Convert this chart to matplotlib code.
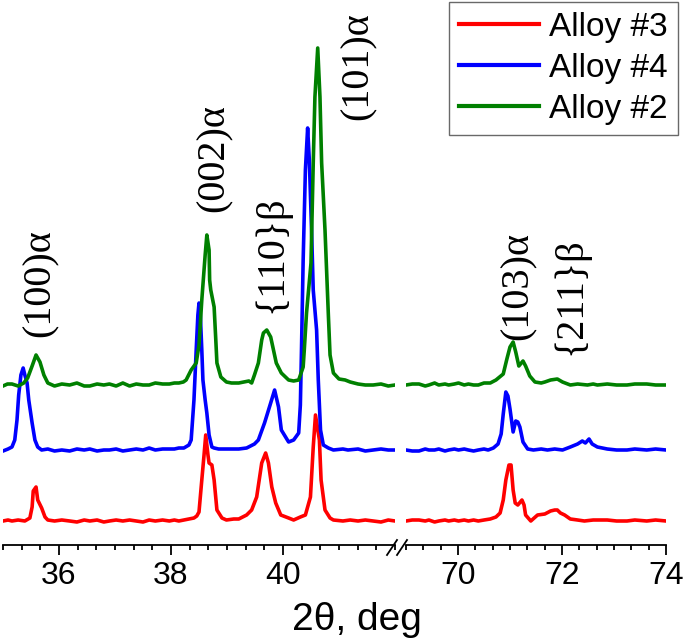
import matplotlib
matplotlib.use('Agg')
import matplotlib.pyplot as plt
from matplotlib.ticker import MultipleLocator
from matplotlib.lines import Line2D

plt.rcParams['font.family'] = ['Liberation Sans', 'DejaVu Sans']

labels = ['Alloy #3', 'Alloy #4', 'Alloy #2']
colors = ['#ff0000', '#0000ff', '#008000']
offsets = [24, 95, 160]

# ---- low-angle window (35-42 deg) ----
tt_lo_a3 = [35.00, 35.09, 35.16, 35.27, 35.39, 35.48, 35.52, 35.54, 35.59, 35.62, 35.69, 35.75,
            35.80, 35.92, 36.05, 36.19, 36.32, 36.45, 36.55, 36.68, 36.80, 36.90, 37.02, 37.14,
            37.26, 37.38, 37.50, 37.61, 37.72, 37.85, 37.97, 38.06, 38.14, 38.23, 38.32, 38.41,
            38.46, 38.50, 38.55, 38.59, 38.62, 38.66, 38.68, 38.73, 38.77, 38.82, 38.91, 38.99,
            39.12, 39.21, 39.35, 39.44, 39.53, 39.62, 39.69, 39.74, 39.80, 39.87, 39.96, 40.10,
            40.19, 40.31, 40.40, 40.49, 40.54, 40.58, 40.65, 40.68, 40.75, 40.84, 40.90, 41.07,
            41.20, 41.34, 41.47, 41.61, 41.75, 41.88, 42.00]
int_lo_a3 = [0, 1, 0, 1, 0, 3, 14, 30, 34, 21, 13, 4,
             1, 0, 1, 0, -1, 1, 0, 1, -1, 0, 1, 0,
             1, 0, -1, 1, 0, 1, 0, 1, 0, 1, 2, 3,
             5, 9, 41, 66, 86, 66, 58, 56, 41, 11, 3, 1,
             2, 2, 6, 11, 24, 58, 68, 58, 34, 18, 6, 3,
             1, 4, 6, 24, 74, 106, 81, 41, 11, 3, 1, 0,
             1, 0, 1, 0, -1, 1, 0]

tt_lo_a4 = [35.00, 35.09, 35.16, 35.21, 35.25, 35.28, 35.32, 35.36, 35.39, 35.43, 35.46, 35.52,
            35.57, 35.62, 35.69, 35.80, 35.92, 36.05, 36.19, 36.32, 36.45, 36.55, 36.68, 36.80,
            36.90, 37.02, 37.14, 37.26, 37.38, 37.50, 37.61, 37.72, 37.85, 37.97, 38.06, 38.14,
            38.23, 38.32, 38.36, 38.41, 38.45, 38.48, 38.50, 38.52, 38.55, 38.57, 38.61, 38.64,
            38.68, 38.73, 38.77, 38.85, 38.99, 39.12, 39.21, 39.35, 39.49, 39.56, 39.67, 39.78,
            39.85, 39.92, 39.97, 40.10, 40.19, 40.28, 40.31, 40.33, 40.36, 40.40, 40.44, 40.47,
            40.51, 40.54, 40.60, 40.63, 40.67, 40.72, 40.81, 40.90, 41.07, 41.16, 41.34, 41.47,
            41.61, 41.75, 41.88, 42.00]
int_lo_a4 = [-1, 1, 3, 10, 30, 55, 75, 82, 75, 67, 50, 27,
             10, 3, 0, 1, -1, 0, -1, 1, 0, 1, -1, 0,
             0, 1, -1, 0, 1, 0, 2, 0, 1, 1, 1, 2,
             2, 5, 10, 50, 100, 135, 147, 140, 100, 70, 50, 37,
             15, 3, 2, 1, 1, 1, 1, 2, 6, 10, 27, 47,
             60, 43, 20, 8, 10, 17, 45, 100, 190, 280, 322, 290,
             220, 160, 120, 70, 20, 5, 2, 0, 1, 0, 1, -1,
             0, 1, 0, 0]

tt_lo_a2 = [35.00, 35.08, 35.16, 35.27, 35.37, 35.44, 35.52, 35.59, 35.66, 35.73, 35.80, 35.92,
            36.05, 36.19, 36.32, 36.45, 36.55, 36.68, 36.80, 36.90, 37.02, 37.14, 37.26, 37.38,
            37.50, 37.61, 37.72, 37.85, 37.97, 38.06, 38.14, 38.22, 38.27, 38.36, 38.45, 38.50,
            38.55, 38.61, 38.64, 38.68, 38.69, 38.71, 38.77, 38.80, 38.82, 38.89, 38.99, 39.08,
            39.21, 39.30, 39.39, 39.44, 39.49, 39.56, 39.62, 39.65, 39.71, 39.78, 39.83, 39.88,
            39.97, 40.10, 40.19, 40.28, 40.36, 40.38, 40.42, 40.50, 40.54, 40.57, 40.62, 40.66,
            40.69, 40.75, 40.81, 40.84, 40.90, 41.00, 41.11, 41.20, 41.34, 41.47, 41.61, 41.75,
            41.88, 42.00]
int_lo_a2 = [-1, 1, 1, -1, 2, 7, 19, 30, 23, 10, 2, -1,
             1, 0, 2, -1, -1, 1, 0, 1, -1, 2, -1, 1,
             0, 0, 2, 1, 1, 2, 2, 3, 5, 15, 22, 40,
             85, 130, 150, 135, 105, 95, 78, 45, 22, 8, 3, 2,
             2, 3, 4, 2, 10, 22, 45, 52, 55, 48, 35, 22,
             12, 5, 4, 5, 18, 35, 72, 122, 222, 288, 337, 288,
             222, 155, 70, 30, 12, 6, 5, 3, 1, 0, 0, 1,
             -1, 0]

# ---- high-angle window (69-74 deg) ----
tt_hi_a3 = [69.00, 69.12, 69.25, 69.37, 69.44, 69.55, 69.63, 69.75, 69.82, 69.93, 70.01, 70.12,
            70.20, 70.30, 70.39, 70.50, 70.62, 70.73, 70.81, 70.87, 70.92, 70.98, 71.02, 71.06,
            71.10, 71.15, 71.23, 71.27, 71.30, 71.40, 71.53, 71.67, 71.78, 71.86, 71.91, 71.97,
            72.05, 72.16, 72.30, 72.43, 72.60, 72.87, 73.05, 73.25, 73.40, 73.63, 73.80, 74.00]
int_hi_a3 = [0, 1, 1, 0, 1, -1, 0, 1, 0, 1, 0, 1,
             0, 1, 0, 1, 2, 4, 8, 21, 41, 56, 56, 31,
             18, 16, 21, 16, 6, 0, 6, 7, 10, 11, 11, 8,
             6, 2, 1, 0, 1, 1, 0, 0, 1, 0, 1, 0]

tt_hi_a4 = [69.00, 69.12, 69.25, 69.37, 69.44, 69.55, 69.63, 69.75, 69.82, 69.93, 70.01, 70.12,
            70.20, 70.30, 70.39, 70.50, 70.58, 70.68, 70.77, 70.83, 70.87, 70.92, 70.96, 71.00,
            71.06, 71.11, 71.15, 71.19, 71.25, 71.34, 71.45, 71.60, 71.72, 71.86, 72.01, 72.16,
            72.30, 72.39, 72.45, 72.52, 72.58, 72.68, 72.87, 73.05, 73.25, 73.40, 73.63, 73.80,
            74.00]
int_hi_a4 = [0, -1, -1, 1, 0, 0, 1, -1, 0, 1, 0, 1,
             0, -1, 0, 1, 0, 2, 6, 16, 36, 58, 54, 41,
             18, 29, 28, 23, 8, 1, 0, 1, 0, 1, 0, 3,
             6, 9, 7, 11, 6, 3, 1, 0, 0, 1, 0, 1,
             0]

tt_hi_a2 = [69.00, 69.12, 69.25, 69.37, 69.44, 69.55, 69.63, 69.75, 69.82, 69.93, 70.01, 70.12,
            70.20, 70.30, 70.39, 70.50, 70.62, 70.73, 70.87, 70.94, 71.00, 71.06, 71.11, 71.17,
            71.25, 71.30, 71.38, 71.48, 71.60, 71.67, 71.78, 71.91, 72.01, 72.16, 72.30, 72.49,
            72.60, 72.68, 72.87, 73.05, 73.25, 73.40, 73.63, 73.80, 74.00]
int_hi_a2 = [0, 1, 1, -1, 0, 2, 0, 1, 0, 1, 2, 0,
             1, 0, 0, 2, 2, 5, 11, 26, 38, 43, 33, 19,
             24, 19, 9, 3, 2, 3, 5, 6, 3, 0, 1, 0,
             1, 0, 1, 0, 0, 1, 1, 0, 0]

peaks_lo = ['(100)α', '(002)α', '{110}β', '(101)α']
peaks_lo_tt = [35.66, 38.77, 39.80, 41.34]
peaks_lo_y = [208, 333, 232, 425]
peaks_hi = ['(103)α', '{211}β']
peaks_hi_tt = [71.15, 72.16]
peaks_hi_y = [205, 190]

fig = plt.figure(figsize=(6.85, 6.41), dpi=100)
ax1 = fig.add_axes([3 / 685, 96 / 641, 392 / 685, 545 / 641])
ax2 = fig.add_axes([406 / 685, 96 / 641, 260 / 685, 545 / 641])

lo = [(tt_lo_a3, int_lo_a3), (tt_lo_a4, int_lo_a4), (tt_lo_a2, int_lo_a2)]
hi = [(tt_hi_a3, int_hi_a3), (tt_hi_a4, int_hi_a4), (tt_hi_a2, int_hi_a2)]

for (x, y), c, off in zip(lo, colors, offsets):
    ax1.plot(x, [v + off for v in y], color=c, lw=2.6, solid_joinstyle='round')
for (x, y), c, off in zip(hi, colors, offsets):
    ax2.plot(x, [v + off for v in y], color=c, lw=2.6, solid_joinstyle='round')

ax1.set_xlim(35, 42)
ax2.set_xlim(69, 74)
for ax in (ax1, ax2):
    ax.set_ylim(0, 545)
    ax.patch.set_visible(False)
    for s in ('left', 'right', 'top'):
        ax.spines[s].set_visible(False)
    ax.spines['bottom'].set_linewidth(1.3)
    ax.set_yticks([])
    ax.xaxis.set_major_locator(MultipleLocator(2))
    ax.xaxis.set_minor_locator(MultipleLocator(1 / 3))
    ax.tick_params(axis='x', which='major', direction='out', length=7.5, width=1.3,
                   labelsize=23, pad=4)
    ax.tick_params(axis='x', which='minor', direction='out', length=3.8, width=1.3)
ax1.set_xticks([36, 38, 40])

for s, x, y in zip(peaks_lo, peaks_lo_tt, peaks_lo_y):
    ax1.text(x, y, s, rotation=90, ha='center', va='bottom', fontsize=29,
             family=['Liberation Serif', 'DejaVu Serif'])
for s, x, y in zip(peaks_hi, peaks_hi_tt, peaks_hi_y):
    ax2.text(x, y, s, rotation=90, ha='center', va='bottom', fontsize=29,
             family=['Liberation Serif', 'DejaVu Serif'])

# axis break marks
for xc in (392, 402):
    fig.add_artist(Line2D([(xc - 5) / 685, (xc + 5) / 685],
                          [(96 - 10) / 641, (96 + 5) / 641],
                          color='black', lw=1.3))

handles = [Line2D([], [], color=c, lw=3) for c in colors]
fig.legend(handles, labels, loc='upper right', bbox_to_anchor=(678 / 685, 639 / 641),
           fontsize=24, frameon=True, fancybox=False, edgecolor='#444444',
           handlelength=2.4, handletextpad=0.3, labelspacing=0.3, borderpad=0.3,
           borderaxespad=0)

fig.text(357 / 685, 11 / 641, '2θ, deg', ha='center', va='baseline', fontsize=28)

fig.savefig('out.png', dpi=100)
